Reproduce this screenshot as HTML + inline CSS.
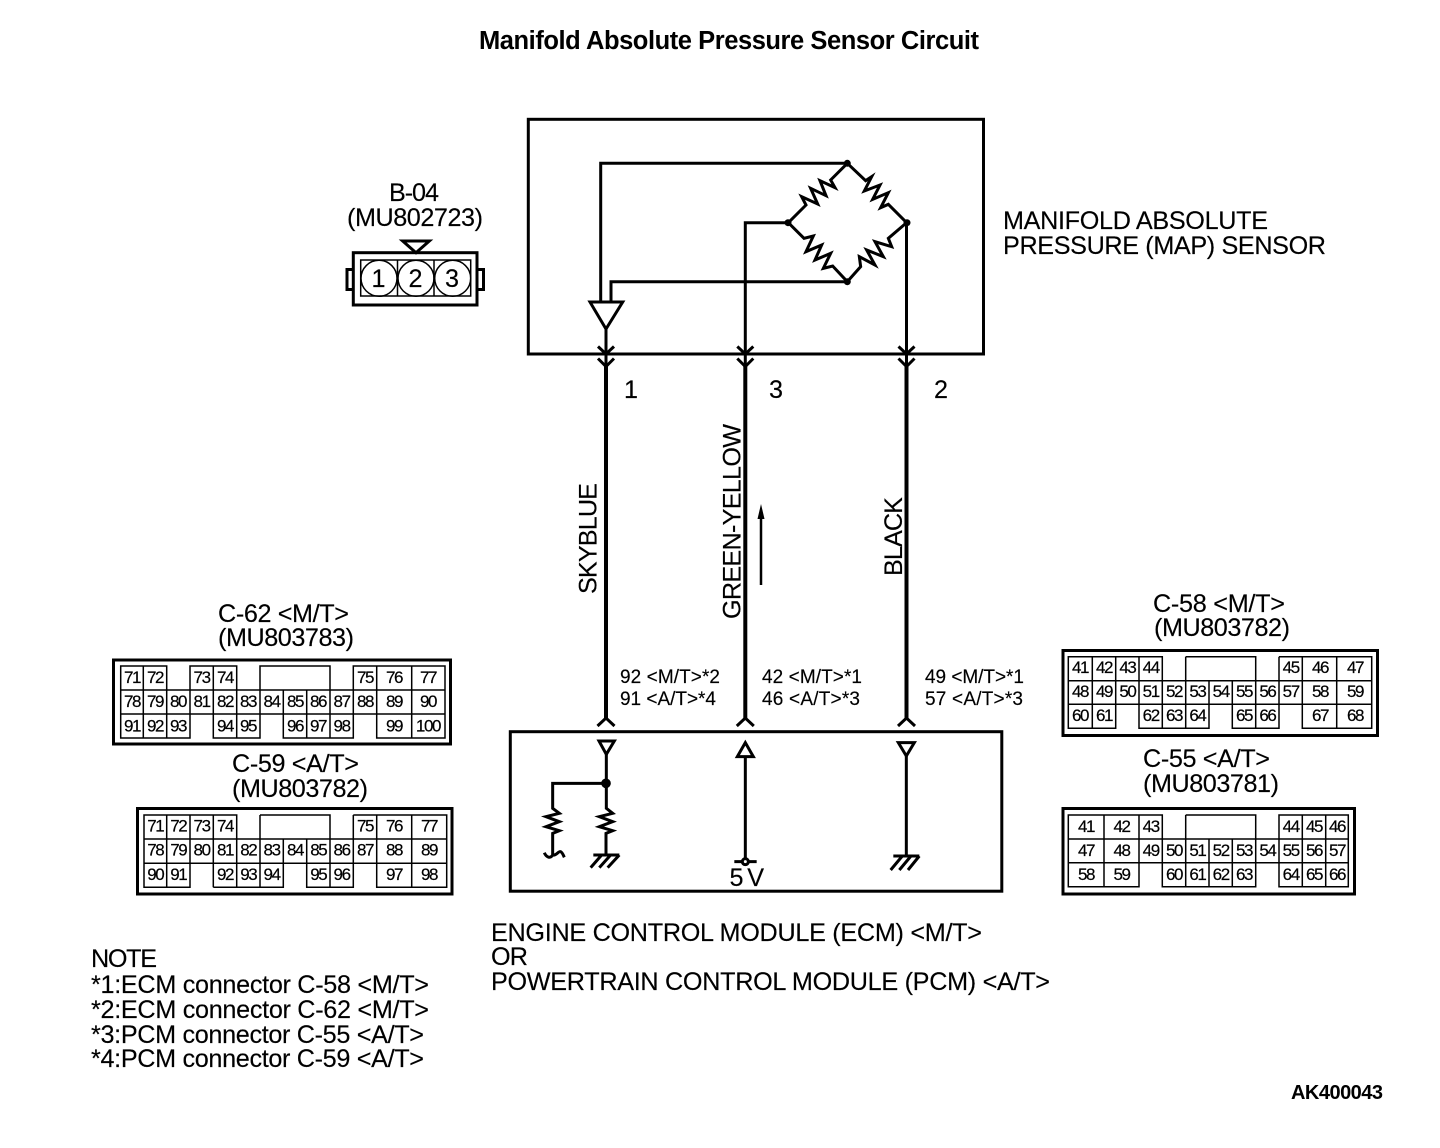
<!DOCTYPE html>
<html><head><meta charset="utf-8"><title>Manifold Absolute Pressure Sensor Circuit</title>
<style>
html,body{margin:0;padding:0;background:#fff}
svg{display:block}
text{font-family:"Liberation Sans",sans-serif;fill:#000}
.b{font-size:25.2px;stroke:#000;stroke-width:.15px}
.s{font-size:19px;stroke:#000;stroke-width:.15px}
.n{font-size:17px;text-anchor:middle;letter-spacing:-1.4px;stroke:#000;stroke-width:.2px}
.w{fill:none;stroke:#000;stroke-width:3}
.g{fill:none;stroke:#000;stroke-width:1.5}
</style></head><body>
<svg width="1440" height="1148" viewBox="0 0 1440 1148" xmlns="http://www.w3.org/2000/svg">
<text x="479" y="49" textLength="500" style="font-size:25.5px;font-weight:bold">Manifold Absolute Pressure Sensor Circuit</text>

<!-- B-04 -->
<text class="b" x="389" y="201" textLength="50">B-04</text>
<text class="b" x="347" y="226" textLength="136">(MU802723)</text>
<path class="w" d="M402.7 241H429.3L416 252.7Z"/>
<rect class="w" x="353.3" y="252.7" width="123.7" height="52.3"/>
<path class="w" d="M353.3 269.5H347V289.5H353.3M477 269.5H483.5V289.5H477"/>
<rect class="g" x="360.7" y="260" width="110" height="36"/>
<path class="g" d="M397.5 260V296M434 260V296"/>
<circle class="g" cx="379" cy="278.3" r="18"/><circle class="g" cx="416" cy="278.3" r="18"/><circle class="g" cx="452.7" cy="278.3" r="18"/>
<text class="b" x="378.5" y="287" text-anchor="middle">1</text>
<text class="b" x="415.5" y="287" text-anchor="middle">2</text>
<text class="b" x="452" y="287" text-anchor="middle">3</text>

<!-- MAP sensor -->
<rect class="w" x="528.3" y="119.3" width="455.2" height="234.7"/>
<text class="b" x="1003" y="229" textLength="265">MANIFOLD ABSOLUTE</text>
<text class="b" x="1003" y="254" textLength="323">PRESSURE (MAP) SENSOR</text>
<path class="w" d="M600.7 303V163.3H847M611 303V281.7H847M745.3 365V222.7H788M906.5 222.7V365M606 329V365"/>
<path class="w" d="M590 302H622.7L606 329Z"/>
<g class="w" transform="translate(520 110) scale(.33333)" style="stroke-width:9">
<path d="M982 160L932 210L945 233L900 212L918 257L872 235L893 282L845 260L858 285L805 338"/>
<path d="M982 160L1037 212L1055 200L1033 243L1080 225L1058 268L1105 248L1082 293L1105 283L1160 338"/>
<path d="M805 338L852 385L880 378L858 425L905 405L885 450L932 430L910 475L938 468L982 515"/>
<path d="M982 515L1022 470L1018 440L1065 465L1040 420L1090 440L1065 395L1115 410L1105 385L1160 338"/>
</g>
<circle cx="847.3" cy="163.3" r="3.5"/><circle cx="788" cy="222.7" r="3.5"/><circle cx="907" cy="222.7" r="3.5"/><circle cx="847.3" cy="281.7" r="3.5"/>
<path class="w" d="M598 346.5L606 354L614 346.5M598 358.5L606 366.5L614 358.5M737.3 346.5L745.3 354L753.3 346.5M737.3 358.5L745.3 366.5L753.3 358.5M898.5 346.5L906.5 354L914.5 346.5M898.5 358.5L906.5 366.5L914.5 358.5"/>
<path class="w" style="stroke-width:4" d="M606 366V719M745.3 366V719M906.5 366V719"/>
<path class="w" d="M597.5 726L606 718L614.5 726M736.8 726L745.3 718L753.8 726M898 726L906.5 718L915 726"/>
<text class="b" x="624" y="398">1</text>
<text class="b" x="769" y="398">3</text>
<text class="b" x="934" y="398">2</text>
<text class="b" transform="translate(596.5 594) rotate(-90)" textLength="111">SKYBLUE</text>
<text class="b" transform="translate(740.5 619) rotate(-90)" textLength="195">GREEN-YELLOW</text>
<text class="b" transform="translate(902 576) rotate(-90)" textLength="79">BLACK</text>
<path class="w" style="stroke-width:2.5" d="M761 585V510"/>
<path d="M761 504L757.5 519H764.5Z"/>
<text class="s" x="620" y="683" textLength="100">92 &lt;M/T&gt;*2</text>
<text class="s" x="620" y="705" textLength="96">91 &lt;A/T&gt;*4</text>
<text class="s" x="762" y="683" textLength="100">42 &lt;M/T&gt;*1</text>
<text class="s" x="762" y="705" textLength="98">46 &lt;A/T&gt;*3</text>
<text class="s" x="925" y="683" textLength="99">49 &lt;M/T&gt;*1</text>
<text class="s" x="925" y="705" textLength="98">57 &lt;A/T&gt;*3</text>

<!-- ECM -->
<rect class="w" x="510.3" y="731.7" width="491.5" height="159.5"/>
<g class="w" transform="translate(500 700) scale(.33333)" style="stroke-width:9">
<path d="M297 123H343L319 163Z"/>
<path d="M319 163V325L338 340L298 350L338 365L298 380L338 392L318 400V465"/>
<path d="M318 250H158V325L178 340L138 350L178 365L138 380L178 392L158 400V465C150 478 138 470 133 458M158 465C170 468 175 452 182 455C188 458 190 466 193 472"/>
<path d="M280 465H358M305 465L272 503M332 465L298 503M358 465L323 503"/>
<path d="M736 128L712 170H760Z"/>
<path d="M736 170V485M703 485H770"/>
<circle cx="736" cy="485" r="9" style="fill:#fff"/>
<path d="M1195 128H1243L1219 168Z"/>
<path d="M1219 168V468M1180 468H1258M1207 468L1172 510M1233 468L1198 510M1258 468L1224 510"/>
<circle cx="318" cy="250" r="10" style="fill:#000"/>
</g>
<text class="b" x="729.5" y="886" textLength="34.5">5 V</text>
<text class="b" x="491" y="941" textLength="491">ENGINE CONTROL MODULE (ECM) &lt;M/T&gt;</text>
<text class="b" x="491" y="965" textLength="37">OR</text>
<text class="b" x="491" y="990" textLength="559">POWERTRAIN CONTROL MODULE (PCM) &lt;A/T&gt;</text>

<!-- C-62 -->
<text class="b" x="218" y="622" textLength="131">C-62 &lt;M/T&gt;</text>
<text class="b" x="218" y="646" textLength="136">(MU803783)</text>
<rect class="w" x="113.5" y="660" width="337" height="84"/>
<path class="g" d="M120.7 666H166.7V738H120.7ZM143.3 666V738M120.7 690H445M120.7 714H445M190 666H236.7V714H190ZM213.3 666V738H260V666H330V738M236.7 690V738M283.3 690V738H353.3V666H445V738H376.7V666M306.7 690V738M411.7 666V738M166.7 738H190V690"/>
<g>
<text class="n" x="132" y="683">71</text><text class="n" x="155" y="683">72</text><text class="n" x="201.6" y="683">73</text><text class="n" x="225" y="683">74</text><text class="n" x="365" y="683">75</text><text class="n" x="394" y="683">76</text><text class="n" x="428" y="683">77</text>
<text class="n" x="132" y="707">78</text><text class="n" x="155" y="707">79</text><text class="n" x="178" y="707">80</text><text class="n" x="201.6" y="707">81</text><text class="n" x="225" y="707">82</text><text class="n" x="248" y="707">83</text><text class="n" x="271.6" y="707">84</text><text class="n" x="295" y="707">85</text><text class="n" x="318" y="707">86</text><text class="n" x="341.6" y="707">87</text><text class="n" x="365" y="707">88</text><text class="n" x="394" y="707">89</text><text class="n" x="428" y="707">90</text>
<text class="n" x="132" y="731.5">91</text><text class="n" x="155" y="731.5">92</text><text class="n" x="178" y="731.5">93</text><text class="n" x="225" y="731.5">94</text><text class="n" x="248" y="731.5">95</text><text class="n" x="295" y="731.5">96</text><text class="n" x="318" y="731.5">97</text><text class="n" x="341.6" y="731.5">98</text><text class="n" x="394" y="731.5">99</text><text class="n" x="428" y="731.5">100</text>
</g>

<!-- C-59 -->
<text class="b" x="232" y="772" textLength="127">C-59 &lt;A/T&gt;</text>
<text class="b" x="232" y="797" textLength="136">(MU803782)</text>
<rect class="w" x="137.5" y="808.5" width="314.5" height="85.5"/>
<path class="g" d="M144 815H236.7V863.3H144ZM144 839H446.7M144 863.3H446.7M144 863.3V887.3H190V863.3M166.7 815V887.3M190 815V863.3M213.3 815V887.3M236.7 839V887.3H213.3M260 815H330V839M260 815V887.3H213.3M283.3 839V887.3H260M306.7 839V887.3H353.3V839M330 815V887.3M353.3 815V863.3M353.3 815H446.7V887.3H376.7V815M411.7 815V887.3"/>
<g>
<text class="n" x="155.3" y="831.7">71</text><text class="n" x="178.3" y="831.7">72</text><text class="n" x="201.6" y="831.7">73</text><text class="n" x="225" y="831.7">74</text><text class="n" x="365" y="831.7">75</text><text class="n" x="394" y="831.7">76</text><text class="n" x="429" y="831.7">77</text>
<text class="n" x="155.3" y="855.7">78</text><text class="n" x="178.3" y="855.7">79</text><text class="n" x="201.6" y="855.7">80</text><text class="n" x="225" y="855.7">81</text><text class="n" x="248.3" y="855.7">82</text><text class="n" x="271.6" y="855.7">83</text><text class="n" x="295" y="855.7">84</text><text class="n" x="318.3" y="855.7">85</text><text class="n" x="341.6" y="855.7">86</text><text class="n" x="365" y="855.7">87</text><text class="n" x="394" y="855.7">88</text><text class="n" x="429" y="855.7">89</text>
<text class="n" x="155.3" y="880">90</text><text class="n" x="178.3" y="880">91</text><text class="n" x="225" y="880">92</text><text class="n" x="248.3" y="880">93</text><text class="n" x="271.6" y="880">94</text><text class="n" x="318.3" y="880">95</text><text class="n" x="341.6" y="880">96</text><text class="n" x="394" y="880">97</text><text class="n" x="429" y="880">98</text>
</g>

<!-- C-58 -->
<text class="b" x="1153" y="612" textLength="132">C-58 &lt;M/T&gt;</text>
<text class="b" x="1154" y="636" textLength="136">(MU803782)</text>
<rect class="w" x="1063" y="650.5" width="314.5" height="85"/>
<path class="g" d="M1068.3 656.7H1162.3V704.3H1068.3ZM1068.3 680.7H1371.7M1068.3 704.3H1371.7M1068.3 704.3V728.3H1115.7V704.3M1092.3 656.7V728.3M1115.7 656.7V680.7M1139 656.7V728.3H1209V680.7M1162.3 680.7V728.3M1185.7 656.7H1255.7V680.7M1185.7 656.7V728.3M1232.3 680.7V728.3H1279V680.7M1255.7 680.7V728.3M1279 656.7H1371.7V728.3H1302.3V656.7M1279 656.7V704.3M1336.7 656.7V728.3M1115.7 680.7V704.3M1209 680.7V704.3"/>
<g>
<text class="n" x="1080" y="673">41</text><text class="n" x="1104" y="673">42</text><text class="n" x="1127.4" y="673">43</text><text class="n" x="1150.7" y="673">44</text><text class="n" x="1290.7" y="673">45</text><text class="n" x="1320" y="673">46</text><text class="n" x="1355" y="673">47</text>
<text class="n" x="1080" y="697">48</text><text class="n" x="1104" y="697">49</text><text class="n" x="1127.4" y="697">50</text><text class="n" x="1150.7" y="697">51</text><text class="n" x="1174" y="697">52</text><text class="n" x="1197.4" y="697">53</text><text class="n" x="1220.7" y="697">54</text><text class="n" x="1244" y="697">55</text><text class="n" x="1267.4" y="697">56</text><text class="n" x="1290.7" y="697">57</text><text class="n" x="1320" y="697">58</text><text class="n" x="1355" y="697">59</text>
<text class="n" x="1080" y="721">60</text><text class="n" x="1104" y="721">61</text><text class="n" x="1150.7" y="721">62</text><text class="n" x="1174" y="721">63</text><text class="n" x="1197.4" y="721">64</text><text class="n" x="1244" y="721">65</text><text class="n" x="1267.4" y="721">66</text><text class="n" x="1320" y="721">67</text><text class="n" x="1355" y="721">68</text>
</g>

<!-- C-55 -->
<text class="b" x="1143" y="767" textLength="127">C-55 &lt;A/T&gt;</text>
<text class="b" x="1143" y="792" textLength="136">(MU803781)</text>
<rect class="w" x="1063" y="808.5" width="291.5" height="85.5"/>
<path class="g" d="M1068.3 815H1162.3V862.7H1068.3ZM1068.3 839H1348.3M1068.3 862.7H1348.3M1068.3 862.7V886.7H1139V815M1104 815V886.7M1162.3 839V886.7H1255.7V839M1185.7 815H1255.7V839M1185.7 815V886.7M1209 839V886.7M1232.3 839V886.7M1279 815H1348.3V886.7H1279ZM1302.3 815V886.7M1325.7 815V886.7M1255.7 839V862.7"/>
<g>
<text class="n" x="1086" y="832">41</text><text class="n" x="1121.5" y="832">42</text><text class="n" x="1150.7" y="832">43</text><text class="n" x="1290.7" y="832">44</text><text class="n" x="1314" y="832">45</text><text class="n" x="1337" y="832">46</text>
<text class="n" x="1086" y="856">47</text><text class="n" x="1121.5" y="856">48</text><text class="n" x="1150.7" y="856">49</text><text class="n" x="1174" y="856">50</text><text class="n" x="1197.4" y="856">51</text><text class="n" x="1220.7" y="856">52</text><text class="n" x="1244" y="856">53</text><text class="n" x="1267.4" y="856">54</text><text class="n" x="1290.7" y="856">55</text><text class="n" x="1314" y="856">56</text><text class="n" x="1337" y="856">57</text>
<text class="n" x="1086" y="880">58</text><text class="n" x="1121.5" y="880">59</text><text class="n" x="1174" y="880">60</text><text class="n" x="1197.4" y="880">61</text><text class="n" x="1220.7" y="880">62</text><text class="n" x="1244" y="880">63</text><text class="n" x="1290.7" y="880">64</text><text class="n" x="1314" y="880">65</text><text class="n" x="1337" y="880">66</text>
</g>

<!-- Notes -->
<text class="b" x="91" y="967" textLength="66">NOTE</text>
<text class="b" x="91" y="993" textLength="338">*1:ECM connector C-58 &lt;M/T&gt;</text>
<text class="b" x="91" y="1018" textLength="338">*2:ECM connector C-62 &lt;M/T&gt;</text>
<text class="b" x="91" y="1043" textLength="333">*3:PCM connector C-55 &lt;A/T&gt;</text>
<text class="b" x="91" y="1067" textLength="333">*4:PCM connector C-59 &lt;A/T&gt;</text>
<text x="1291" y="1099" textLength="92" style="font-size:20px;font-weight:bold">AK400043</text>
</svg>
</body></html>
